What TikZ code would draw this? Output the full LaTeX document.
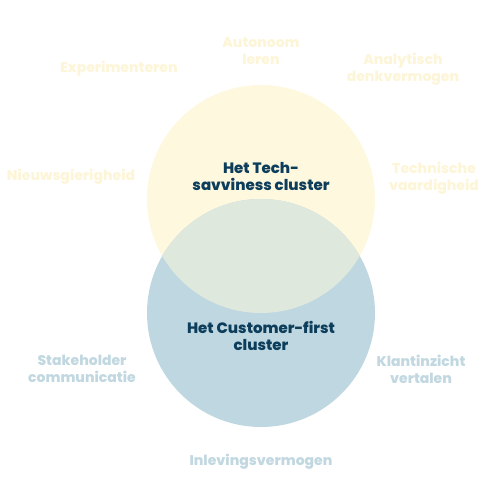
\documentclass[tikz,border=0pt]{standalone}
\usepackage{tikz}
\usetikzlibrary{positioning}
\usepackage{fontspec}
\setmainfont{Poppins}[BoldFont={Poppins ExtraBold}]
\usepackage{xcolor}
\definecolor{techgeel}{HTML}{FEF8DF}
\definecolor{klantblauw}{HTML}{BFD7E0}
\definecolor{overlap}{HTML}{DEE8DD}
\definecolor{donkerblauw}{HTML}{0C3D5B}
\definecolor{geeltekst}{HTML}{FDF5D8}
\definecolor{blauwtekst}{HTML}{C2D8E1}

\begin{document}
\begin{tikzpicture}[x=1pt, y=-1pt,
	cluster/.style={font=\bfseries\fontsize{15}{17}\selectfont, text=donkerblauw, align=center},
	geel/.style={font=\bfseries\fontsize{14}{17}\selectfont, text=geeltekst, align=center},
	blauw/.style={font=\bfseries\fontsize{14}{17}\selectfont, text=blauwtekst, align=center}
	]
	\useasboundingbox (0,0) rectangle (504,504);

	% de twee cirkels
	\fill[techgeel] (261,199) circle (114);
	\fill[klantblauw] (261,313) circle (114);
	\begin{scope}
		\clip (261,199) circle (114);
		\fill[overlap] (261,313) circle (114);
	\end{scope}

	\node[cluster] (tech) at (261,176) {Het Tech-\\savviness cluster};
	\node[cluster] (klant) at (261,336) {Het Customer-first\\cluster};

	% tech-savviness vaardigheden
	\node[geel] (autonoom) at (261,51) {Autonoom\\leren};
	\node[geel] (experiment) at (119,69) {Experimenteren};
	\node[geel] (analytisch) at (403,69) {Analytisch\\denkvermogen};
	\node[geel] (nieuwsgierig) at (71,177) {Nieuwsgierigheid};
	\node[geel] (technisch) at (434,178) {Technische\\vaardigheid};

	% customer-first vaardigheden
	\node[blauw] (stakeholder) at (82,369) {Stakeholder\\communicatie};
	\node[blauw] (klantinzicht) at (421,369) {Klantinzicht\\vertalen};
	\node[blauw] (inleving) at (261,462) {Inlevingsvermogen};
\end{tikzpicture}
\end{document}
